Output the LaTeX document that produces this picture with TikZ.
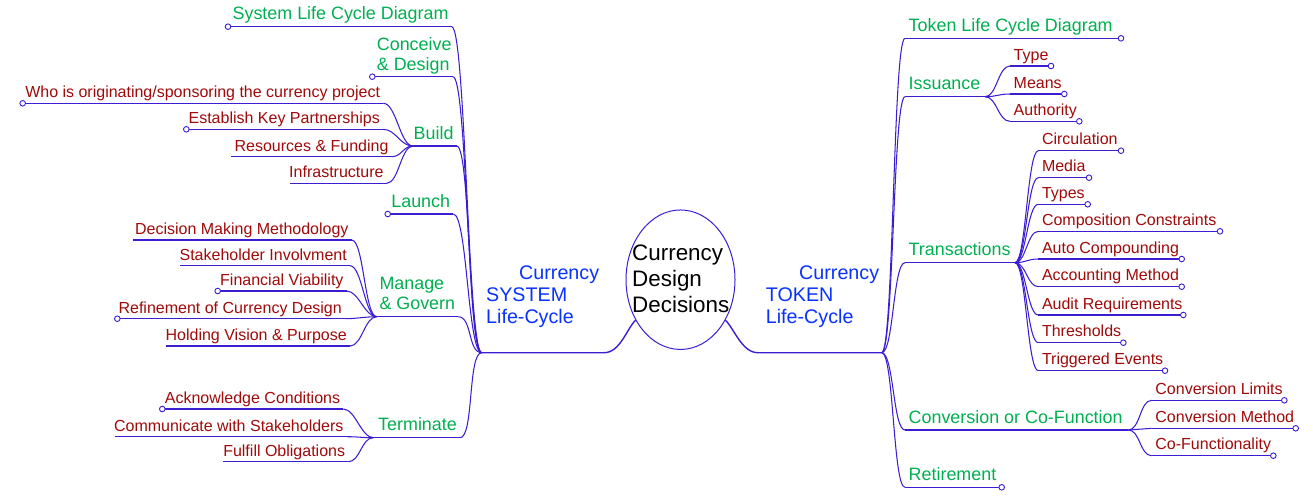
\documentclass[tikz,border=0pt]{standalone}
\usepackage{fontspec}
\setmainfont{Liberation Sans}
\usetikzlibrary{shapes.geometric}
\definecolor{lnk}{RGB}{60,30,210}
\definecolor{grn}{RGB}{0,176,80}
\definecolor{dred}{RGB}{160,10,10}
\definecolor{blu}{RGB}{10,50,255}
\newcommand{\mmRed}{\fontsize{16}{19}\selectfont}
\newcommand{\mmGrn}{\fontsize{17.9}{19.7}\selectfont}
\newcommand{\mmBlu}{\fontsize{19.7}{22}\selectfont}
\newcommand{\mmBlk}{\fontsize{22.4}{25.8}\selectfont}
\tikzset{
  link/.style={draw=lnk, line width=1.05pt},
  mainlink/.style={draw=lnk, line width=1.4pt},
  fold/.style={circle, draw=lnk, fill=white, inner sep=0pt, minimum size=5.6pt, line width=0.9pt},
  redt/.style={text=dred, font=\mmRed, inner sep=0pt},
  grnt/.style={text=grn, font=\mmGrn, inner sep=0pt},
  bluet/.style={text=blu, font=\mmBlu, inner sep=0pt, align=left},
  blkt/.style={text=black, font=\mmBlk, inner sep=0pt, align=left},
}
% left-side item: name, style, x line left, x line right, y line, baseline offset, text
\newcommand{\Lleaf}[7]{%
  \coordinate (#1-l) at (#3,#5);
  \coordinate (#1-r) at (#4,#5);
  \node[#2, anchor=base east] (#1) at (#4-3,#5-#6) {#7};
  \draw[link] (#1-l) -- (#1-r);
}
% right-side item
\newcommand{\Rleaf}[7]{%
  \coordinate (#1-l) at (#3,#5);
  \coordinate (#1-r) at (#4,#5);
  \node[#2, anchor=base west] (#1) at (#3+3.5,#5-#6) {#7};
  \draw[link] (#1-l) -- (#1-r);
}
\newcommand{\foldL}[1]{\node[fold] (#1-f) at (#1-l) {};}
\newcommand{\foldR}[1]{\node[fold] (#1-f) at (#1-r) {};}
% connectors
\newcommand{\conL}[3]{\draw[link] (#1) .. controls +(-#3,0) and +(#3,0) .. (#2-r);}
\newcommand{\conR}[3]{\draw[link] (#1) .. controls +(#3,0) and +(-#3,0) .. (#2-l);}
\begin{document}
\begin{tikzpicture}[x=1pt,y=-1pt]
\useasboundingbox[fill=white] (0,0) rectangle (1313,496);

% centre
\node[ellipse, draw=lnk, line width=1pt, minimum width=109pt, minimum height=139.5pt, inner sep=0pt] (ell) at (680.5,279.7) {};
\node[blkt, anchor=base west] (ctext) at (632,312.3) {Currency\\Design\\Decisions};

% hubs
\coordinate (hubL) at (481.7,352.7);
\coordinate (hubR) at (881.7,352.7);
\coordinate (mL) at (604,352.7);
\coordinate (mR) at (758,352.7);
\draw[mainlink] (ell.222) .. controls +(-9,9) and +(16,0) .. (mL) -- (hubL);
\draw[mainlink] (ell.318) .. controls +(9,9) and +(-16,0) .. (mR) -- (hubR);

\node[bluet, anchor=base west] (sysroot) at (486,323.3) {\hspace*{33pt}Currency\\SYSTEM\\Life-Cycle};
\node[bluet, anchor=base west] (tokroot) at (765.7,323.3) {\hspace*{33.3pt}Currency\\TOKEN\\Life-Cycle};

% ---------- left side ----------
\Lleaf{sys}{grnt}{228}{451.7}{26.7}{7}{System Life Cycle Diagram}
\foldL{sys}
\coordinate (con-l) at (372.3,76.7);
\coordinate (con-r) at (453,76.7);
\node[grnt, align=left, anchor=base west] (con) at (376.7,70) {Conceive\\\& Design};
\draw[link] (con-l) -- (con-r);
\foldL{con}
\Lleaf{bld}{grnt}{413}{456.7}{146}{7}{Build}
\Lleaf{lch}{grnt}{387.7}{453.3}{214}{7}{Launch}
\foldL{lch}
\coordinate (man-l) at (376.7,316.7);
\coordinate (man-r) at (458.3,316.7);
\node[grnt, align=left, anchor=base west] (man) at (379.3,309) {Manage\\\& Govern};
\draw[link] (man-l) -- (man-r);
\Lleaf{trm}{grnt}{373.3}{460}{437.7}{7}{Terminate}

\conL{hubL}{sys}{14}
\conL{hubL}{con}{14}
\conL{hubL}{bld}{14}
\conL{hubL}{lch}{14}
\conL{hubL}{man}{14}
\conL{hubL}{trm}{14}

% build
\Lleaf{who}{redt}{22.7}{383.3}{103.3}{5.5}{Who is originating/sponsoring the currency project}
\foldL{who}
\Lleaf{est}{redt}{186.3}{383}{129.3}{5.5}{Establish Key Partnerships}
\foldL{est}
\Lleaf{res}{redt}{231}{391.7}{156.7}{5.5}{Resources \& Funding}
\Lleaf{inf}{redt}{290}{386.7}{183.3}{5.5}{Infrastructure}
\conL{bld-l}{who}{13}
\conL{bld-l}{est}{13}
\conL{bld-l}{res}{10}
\conL{bld-l}{inf}{12}

% manage
\Lleaf{dec}{redt}{133.3}{351.7}{240}{5.5}{Decision Making Methodology}
\Lleaf{stk}{redt}{180}{350}{265.7}{5.5}{Stakeholder Involvment}
\Lleaf{fin}{redt}{217.7}{346.7}{291}{5.5}{Financial Viability}
\foldL{fin}
\Lleaf{ref}{redt}{117.3}{345}{318.7}{5.5}{Refinement of Currency Design}
\foldL{ref}
\Lleaf{hol}{redt}{166}{350}{346}{5.5}{Holding Vision \& Purpose}
\conL{man-l}{dec}{12}
\conL{man-l}{stk}{12}
\conL{man-l}{fin}{12}
\conL{man-l}{ref}{12}
\conL{man-l}{hol}{12}

% terminate
\Lleaf{ack}{redt}{162.3}{343.3}{409}{5.5}{Acknowledge Conditions}
\foldL{ack}
\Lleaf{com}{redt}{115}{346.7}{436.7}{5.5}{Communicate with Stakeholders}
\Lleaf{ful}{redt}{223.3}{348.3}{461.7}{5.5}{Fulfill Obligations}
\conL{trm-l}{ack}{12}
\conL{trm-l}{com}{12}
\conL{trm-l}{ful}{12}

% ---------- right side ----------
\Rleaf{tok}{grnt}{905}{1121}{38.3}{7}{Token Life Cycle Diagram}
\foldR{tok}
\Rleaf{iss}{grnt}{905}{985}{96.7}{7}{Issuance}
\Rleaf{trn}{grnt}{905}{1015}{262.7}{7}{Transactions}
\Rleaf{cnv}{grnt}{905}{1128.3}{430}{7}{Conversion or Co-Function}
\Rleaf{ret}{grnt}{905}{1001.7}{487.3}{7}{Retirement}
\foldR{ret}
\conR{hubR}{tok}{12}
\conR{hubR}{iss}{12}
\conR{hubR}{trn}{12}
\conR{hubR}{cnv}{12}
\conR{hubR}{ret}{12}

% issuance
\Rleaf{typ}{redt}{1010}{1051}{66}{6}{Type}
\Rleaf{mea}{redt}{1010}{1064.3}{94}{6}{Means}
\Rleaf{aut}{redt}{1010}{1079.3}{121.3}{6}{Authority}
\foldR{typ}\foldR{mea}\foldR{aut}
\conR{iss-r}{typ}{12}
\conR{iss-r}{mea}{12}
\conR{iss-r}{aut}{12}

% transactions
\Rleaf{cir}{redt}{1038.3}{1121}{150.7}{6}{Circulation}
\Rleaf{med}{redt}{1038.3}{1089}{177.7}{6}{Media}
\Rleaf{tps}{redt}{1038.3}{1087.7}{204.3}{6}{Types}
\Rleaf{cmp}{redt}{1038.3}{1220}{231.3}{6}{Composition Constraints}
\Rleaf{aco}{redt}{1038.3}{1181.7}{259}{6}{Auto Compounding}
\Rleaf{acc}{redt}{1038.3}{1181.7}{286.7}{6}{Accounting Method}
\Rleaf{aud}{redt}{1038.3}{1183.3}{315}{6}{Audit Requirements}
\Rleaf{thr}{redt}{1038.3}{1123.3}{342.7}{6}{Thresholds}
\Rleaf{trg}{redt}{1038.3}{1165}{370.7}{6}{Triggered Events}
\foldR{cir}\foldR{med}\foldR{tps}\foldR{cmp}\foldR{aco}\foldR{acc}\foldR{aud}\foldR{thr}\foldR{trg}
\conR{trn-r}{cir}{11}
\conR{trn-r}{med}{11}
\conR{trn-r}{tps}{11}
\conR{trn-r}{cmp}{11}
\conR{trn-r}{aco}{11}
\conR{trn-r}{acc}{11}
\conR{trn-r}{aud}{11}
\conR{trn-r}{thr}{11}
\conR{trn-r}{trg}{11}

% conversion
\Rleaf{cvl}{redt}{1151.7}{1284.3}{400.3}{6}{Conversion Limits}
\Rleaf{cvm}{redt}{1151.7}{1295.7}{428.3}{6}{Conversion Method}
\Rleaf{cof}{redt}{1151.7}{1273.3}{455.7}{6}{Co-Functionality}
\foldR{cvl}\foldR{cvm}\foldR{cof}
\conR{cnv-r}{cvl}{12}
\conR{cnv-r}{cvm}{12}
\conR{cnv-r}{cof}{12}
\end{tikzpicture}
\end{document}
